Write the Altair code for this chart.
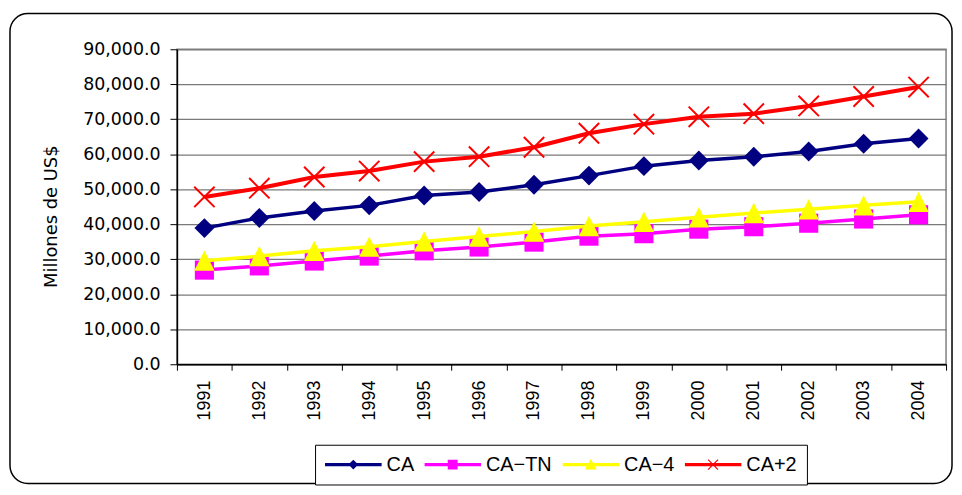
import altair as alt
import pandas as pd

years = [str(y) for y in range(1991, 2005)]
series = ["CA", "CA−TN", "CA−4", "CA+2"]
ca = [38900, 41800, 43800, 45400, 48200, 49200, 51300, 53900, 56600, 58200, 59300, 60800, 63000, 64500]
ca_tn = [26900, 28100, 29500, 30900, 32400, 33500, 34900, 36600, 37300, 38600, 39300, 40300, 41500, 42700]
ca_4 = [29600, 30900, 32400, 33600, 35100, 36500, 37900, 39500, 40700, 42000, 43200, 44300, 45400, 46400]
ca_p2 = [47800, 50300, 53500, 55200, 57900, 59300, 62000, 66000, 68600, 70700, 71600, 73800, 76500, 79200]
y_ticks = [0, 10000, 20000, 30000, 40000, 50000, 60000, 70000, 80000, 90000]
colors = ["#000080", "#FF00FF", "#FFFF00", "#FF0000"]

rows = []
for s, vals in zip(series, [ca, ca_tn, ca_4, ca_p2]):
    for yr, v in zip(years, vals):
        rows.append({"year": yr, "serie": s, "value": v})
df = pd.DataFrame(rows)

LINE = "M-1,-0.056L1,-0.056L1,0.056L-1,0.056Z"
legend_paths = [
    LINE + " M-0.175,0L0,-0.175L0.175,0L0,0.175Z",
    LINE + " M-0.175,-0.175L0.175,-0.175L0.175,0.175L-0.175,0.175Z",
    LINE + " M0,-0.2L0.21,0.175L-0.21,0.175Z",
    LINE + " M-0.19,-0.16L-0.16,-0.19L0.19,0.16L0.16,0.19Z M-0.19,0.16L0.16,-0.19L0.19,-0.16L-0.16,0.19Z",
]

x_enc = alt.X(
    "year:O",
    scale=alt.Scale(domain=years, type="band", paddingInner=0, paddingOuter=0),
    axis=alt.Axis(
        title=None, labelAngle=270, labelFont="Liberation Sans", labelFontSize=18,
        labelColor="black", labelPadding=10, tickSize=6, tickColor="black",
        domainColor="black", domainWidth=1.5, tickBand="extent", tickExtra=True,
        grid=False, labelBaseline="middle",
    ),
)
y_enc = alt.Y(
    "value:Q",
    scale=alt.Scale(domain=[0, 90000], nice=False),
    axis=alt.Axis(
        title="Millones de US$", values=y_ticks, format=",.1f",
        labelFont="DejaVu Sans", labelFontSize=17.5, labelColor="black",
        labelPadding=10, tickSize=7, tickColor="black", domainColor="black",
        domainWidth=1.5, grid=True, gridColor="#7a7a7a", gridWidth=1.3,
        titleFont="DejaVu Sans", titleFontSize=18, titleFontWeight="normal",
        titleColor="black", titleAngle=270, titleX=-126, titleY=168,
        titleAlign="center", titleBaseline="middle",
    ),
)

base = alt.Chart(df).encode(x=x_enc, y=y_enc)

border = alt.Chart(pd.DataFrame({"a": [0]})).mark_rect(
    filled=False, stroke="black", strokeWidth=1.5, cornerRadius=18
).encode(x=alt.value(-168), x2=alt.value(780), y=alt.value(-36), y2=alt.value(437))

marker_specs = [
    dict(shape="diamond", size=400, filled=True, color=colors[0]),
    dict(shape="square", size=370, filled=True, color=colors[1]),
    dict(shape="M0,-1L1,1L-1,1Z", size=420, filled=True, color=colors[2]),
    dict(shape="M-1,-1L1,1M-1,1L1,-1", size=420, filled=False, color=colors[3], strokeWidth=2),
]

layers = [border]
for s, col, ms in zip(series, colors, marker_specs):
    sub = base.transform_filter(alt.datum.serie == s)
    layers.append(sub.mark_line(color=col, strokeWidth=4 if s == "CA+2" else 3.5))
    layers.append(sub.mark_point(opacity=1, **ms))

leg = alt.Legend(
    orient="none", legendX=139, legendY=398, direction="horizontal", title=None,
    strokeColor="black", fillColor="white", padding=10, symbolSize=3249,
    symbolStrokeWidth=0, labelFont="Liberation Sans", labelFontSize=20,
    labelColor="black", labelOffset=5, columnPadding=10, clipHeight=20,
)
legend_layer = base.transform_filter("false").mark_point(filled=True, opacity=1).encode(
    color=alt.Color("serie:N", scale=alt.Scale(domain=series, range=colors), legend=leg),
    shape=alt.Shape("serie:N", scale=alt.Scale(domain=series, range=legend_paths), legend=leg),
)
layers.append(legend_layer)

chart = alt.layer(*layers).properties(
    width=774, height=317,
    autosize=alt.AutoSizeParams(type="none"),
    padding={"left": 170, "top": 40, "right": 8, "bottom": 121},
).configure_view(stroke="#808080", strokeWidth=1.5)

chart.save("out.html", embed_options={"renderer": "svg", "actions": False})
